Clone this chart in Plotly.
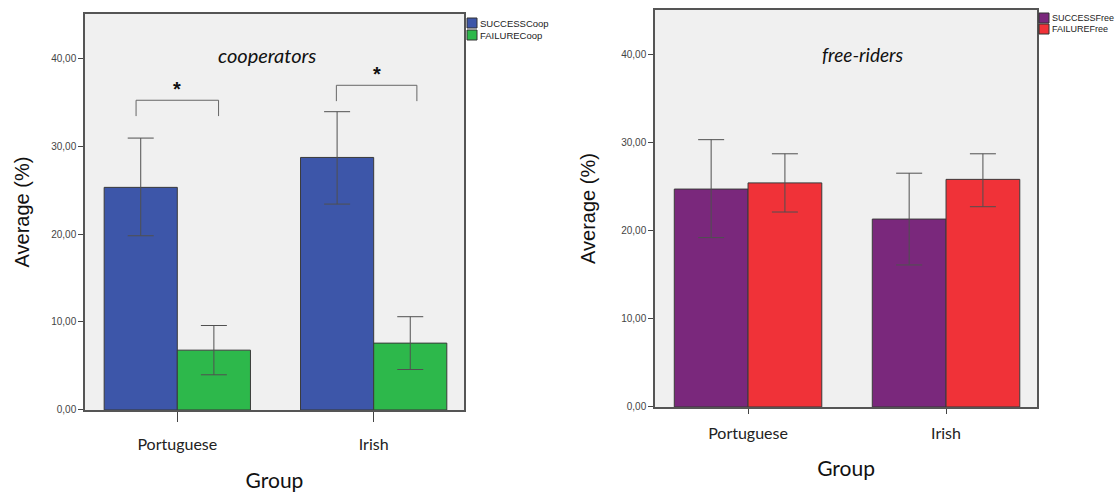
import plotly.graph_objects as go

groups = ["Portuguese", "Irish"]

coop_success = [25.3, 28.7]
coop_success_lo = [19.8, 23.4]
coop_success_hi = [30.9, 33.9]
coop_failure = [6.8, 7.6]
coop_failure_lo = [4.0, 4.6]
coop_failure_hi = [9.6, 10.6]

free_success = [24.7, 21.3]
free_success_lo = [19.2, 16.1]
free_success_hi = [30.3, 26.5]
free_failure = [25.4, 25.8]
free_failure_lo = [22.1, 22.7]
free_failure_hi = [28.7, 28.7]

y_ticks = [0, 10, 20, 30, 40]
y_tick_labels = ["0,00", "10,00", "20,00", "30,00", "40,00"]

C_BLUE = "#3D56A9"
C_GREEN = "#2DB84B"
C_PURPLE = "#7A287C"
C_RED = "#F03238"
EDGE = "#3a3a3a"
W, H = 1120, 492

def err(vals, lo, hi):
    return dict(type="data", symmetric=False,
                array=[h - v for v, h in zip(vals, hi)],
                arrayminus=[v - l for v, l in zip(vals, lo)],
                color="#505050", thickness=1, width=13)

fig = go.Figure()
series = [
    ("SUCCESSCoop", coop_success, coop_success_lo, coop_success_hi, C_BLUE, "x", "y"),
    ("FAILURECoop", coop_failure, coop_failure_lo, coop_failure_hi, C_GREEN, "x", "y"),
    ("SUCCESSFree", free_success, free_success_lo, free_success_hi, C_PURPLE, "x2", "y2"),
    ("FAILUREFree", free_failure, free_failure_lo, free_failure_hi, C_RED, "x2", "y2"),
]
for name, vals, lo, hi, col, xa, ya in series:
    fig.add_trace(go.Bar(x=groups, y=vals, name=name,
                         marker=dict(color=col, line=dict(color=EDGE, width=1)),
                         error_y=err(vals, lo, hi), xaxis=xa, yaxis=ya, showlegend=False))

tickfont = dict(family="Liberation Sans, Arial", size=10, color="#444")
catfont = dict(family="Lato, Open Sans", size=16, color="#222")
titlefont = dict(family="Liberation Sans, Arial", size=20, color="#111")
groupfont = dict(family="Lato, Open Sans", size=21, color="#111")

xcommon = dict(type="category", showline=True, linecolor="#555", linewidth=1.5, mirror=True,
               ticks="outside", tickcolor="#444", tickfont=catfont, showgrid=False,
               range=[-0.47, 1.46], automargin=False)
ycommon = dict(range=[0, 45], tickvals=y_ticks, ticktext=y_tick_labels, showline=True, linecolor="#555",
               linewidth=1.5, mirror=True, ticks="outside", ticklen=5, tickcolor="#444", tickfont=tickfont,
               showgrid=False, zeroline=False, automargin=False)

fig.update_layout(
    width=W, height=H, margin=dict(l=0, r=0, t=0, b=0, autoexpand=False),
    paper_bgcolor="white", plot_bgcolor="#F0F0F0",
    barmode="group", bargap=0.255, bargroupgap=0,
    xaxis=dict(domain=[0.0759, 0.4143], anchor="y", **xcommon, ticklen=10, ticklabelstandoff=9,
               title=dict(text="Group", font=groupfont, standoff=21)),
    yaxis=dict(domain=[0.1667, 0.9715], anchor="x", **ycommon,
               title=dict(text="Average (%)", font=titlefont, standoff=16)),
    xaxis2=dict(domain=[0.5848, 0.926], anchor="y2", **xcommon, ticklen=5, ticklabelstandoff=6,
                title=dict(text="Group", font=groupfont, standoff=20)),
    yaxis2=dict(domain=[0.1728, 0.9797], anchor="x2", **ycommon,
                title=dict(text="Average (%)", font=titlefont, standoff=20)),
    showlegend=False,
)

# manual legends (compact, like the original)
legend_specs = [
    (467, [23, 35], 9.5, [("SUCCESSCoop", C_BLUE), ("FAILURECoop", C_GREEN)]),
    (1039, [18, 29], 9, [("SUCCESSFree", C_PURPLE), ("FAILUREFree", C_RED)]),
]
for px, rows, fs, items in legend_specs:
    for cy, (label, col) in zip(rows, items):
        fig.add_shape(type="rect", xref="paper", yref="paper",
                      x0=px / W, x1=(px + 10) / W, y0=1 - (cy + 5) / H, y1=1 - (cy - 5) / H,
                      fillcolor=col, line=dict(color="#333", width=1))
        fig.add_annotation(text=label, xref="paper", yref="paper", x=(px + 11) / W, y=1 - cy / H,
                           xanchor="left", yanchor="middle", showarrow=False,
                           font=dict(family="Liberation Sans, Arial", size=fs, color="#222"))

# plot titles
fig.add_annotation(text="<i>cooperators</i>", xref="x domain", yref="y domain", x=0.48, y=0.896,
                   yanchor="middle", showarrow=False, font=dict(family="Lato, Open Sans", size=20, color="#111"))
fig.add_annotation(text="<i>free-riders</i>", xref="x2 domain", yref="y2 domain", x=0.545, y=0.887,
                   yanchor="middle", showarrow=False, font=dict(family="Lato, Open Sans", size=19, color="#111"))

# significance brackets
brackets = [(-0.21, 0.21, 35.2, 33.4), (0.81, 1.22, 36.9, 35.1)]
for x0, x1, ytop, ybot in brackets:
    fig.add_shape(type="path", xref="x", yref="y",
                  path=f"M {x0},{ybot} L {x0},{ytop} L {x1},{ytop} L {x1},{ybot}",
                  line=dict(color="#666", width=1))
    fig.add_annotation(text="<b>*</b>", xref="x", yref="y", x=(x0 + x1) / 2, y=ytop, yanchor="bottom",
                       yshift=-2, showarrow=False, font=dict(family="Liberation Sans, Arial", size=20, color="#111"))

fig.write_html("out.html")
